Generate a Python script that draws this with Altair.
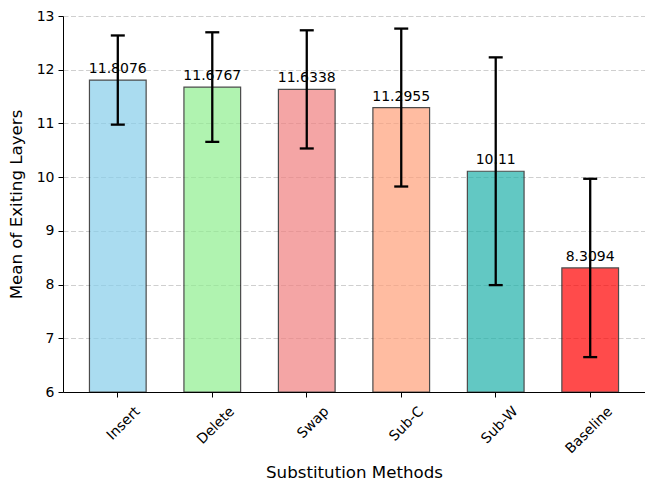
import altair as alt
import pandas as pd

methods = ["Insert", "Delete", "Swap", "Sub-C", "Sub-W", "Baseline"]
means = [11.8076, 11.6767, 11.6338, 11.2955, 10.11, 8.3094]
stds = [0.83, 1.02, 1.10, 1.47, 2.12, 1.66]
labels = ["11.8076", "11.6767", "11.6338", "11.2955", "10.11", "8.3094"]
colors = ["skyblue", "lightgreen", "lightcoral", "lightsalmon", "lightseagreen", "red"]

df = pd.DataFrame({
    "method": methods,
    "mean": means,
    "lo": [m - s for m, s in zip(means, stds)],
    "hi": [m + s for m, s in zip(means, stds)],
    "label": labels,
})

FONT = "DejaVu Sans"
W, H = 582, 376
PAD_LEFT, PAD_TOP, PAD_BOTTOM = 55, 8, 91

xscale = alt.Scale(domain=methods, paddingInner=0.4, paddingOuter=0.28)
yscale = alt.Scale(domain=[6, 13], nice=False, zero=False)

xaxis = alt.Axis(
    title="Substitution Methods",
    labelAngle=-45, labelAlign="right", labelBaseline="middle",
    labelOffset=20, labelPadding=12, tickSize=5,
    titleX=W / 2, titleY=85, titleBaseline="alphabetic", titleAlign="center",
)
yaxis = alt.Axis(
    title="Mean of Exiting Layers",
    values=[6, 7, 8, 9, 10, 11, 12, 13], format="d",
    tickSize=5, labelPadding=4,
    grid=True, gridDash=[5, 2.5], gridColor="#cfcfcf", gridWidth=1,
    titleX=-47, titleY=H / 2, titleAngle=270, titleBaseline="middle", titleAlign="center",
)

base = alt.Chart(df).encode(
    x=alt.X("method:N", sort=methods, scale=xscale, axis=xaxis)
)

bars = base.mark_bar(opacity=0.7, stroke="black", strokeWidth=1.2).encode(
    y=alt.Y("mean:Q", scale=yscale, axis=yaxis),
    y2=alt.datum(6),
    color=alt.Color("method:N", scale=alt.Scale(domain=methods, range=colors), legend=None),
)

text = base.mark_text(baseline="alphabetic", dy=-7, fontSize=14, font=FONT, color="black").encode(
    y=alt.Y("mean:Q"),
    text="label:N",
)

err = base.mark_rule(strokeWidth=2.3, color="black").encode(
    y=alt.Y("lo:Q"), y2="hi:Q"
)
cap_lo = base.mark_tick(color="black", thickness=2.3, size=14, opacity=1).encode(y=alt.Y("lo:Q"))
cap_hi = base.mark_tick(color="black", thickness=2.3, size=14, opacity=1).encode(y=alt.Y("hi:Q"))

chart = alt.layer(bars, text, err, cap_lo, cap_hi).properties(
    width=W, height=H,
    autosize=alt.AutoSizeParams(type="none"),
    padding={"left": PAD_LEFT, "top": PAD_TOP, "right": 0, "bottom": PAD_BOTTOM},
).configure_view(stroke=None).configure_axis(
    labelFont=FONT, titleFont=FONT, labelFontSize=14, titleFontSize=16.67,
    titleFontWeight="normal", labelColor="black", titleColor="black",
    domainColor="black", tickColor="black", domainWidth=1, tickWidth=1,
).configure_axisX(grid=False)

chart.save("out.html", embed_options={"renderer": "svg", "actions": False})
